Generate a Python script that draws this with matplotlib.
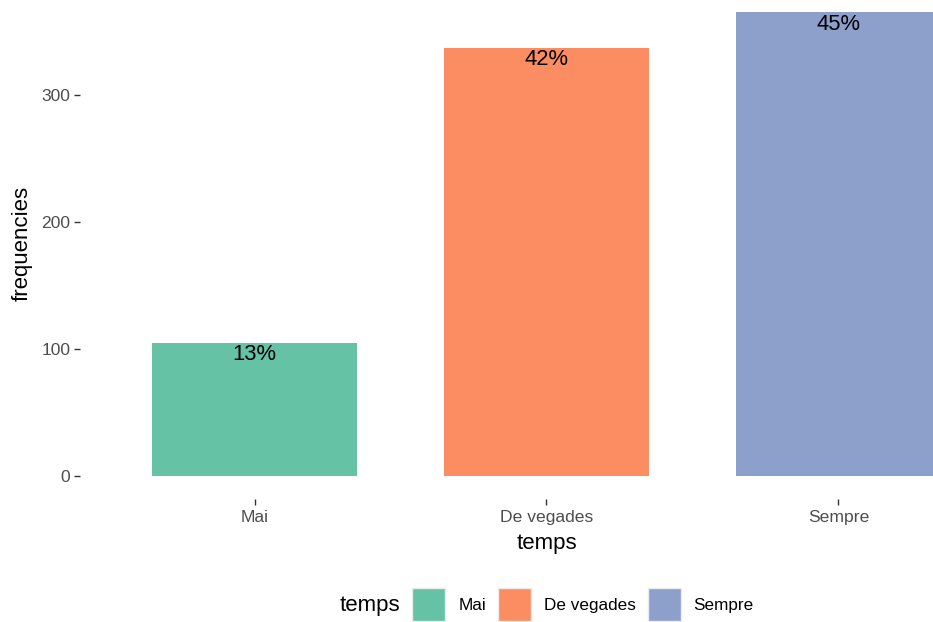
import matplotlib.pyplot as plt
from matplotlib.patches import Patch

# dades
categories = ["Mai", "De vegades", "Sempre"]
frequencies = [105, 337, 365]
percent_labels = ["13%", "42%", "45%"]
colors = ["#66C2A5", "#FC8D62", "#8DA0CB"]
y_ticks = [0, 100, 200, 300]

plt.rcParams['font.family'] = ['Liberation Sans', 'DejaVu Sans']

W, H = 933, 622
fig = plt.figure(figsize=(W / 100, H / 100), dpi=100)
# panell: de x=80px fins a la vora dreta, de y=0 fins a y=499px
ax = fig.add_axes([80 / W, (H - 499) / H, (W - 80) / W, 499 / H])

x = list(range(len(categories)))
bars = ax.bar(x, frequencies, width=0.7, color=colors)
for xi, f, lab in zip(x, frequencies, percent_labels):
    ax.annotate(lab, xy=(xi, f), xytext=(0, -8.5), textcoords="offset points",
                ha="center", va="center", fontsize=15.8, color="black")

ax.set_xlim(-0.598, 2.324)
ax.set_ylim(-18.1, 374.8)
ax.set_xticks(x)
ax.set_xticklabels(categories)
ax.set_yticks(y_ticks)
for s in ax.spines.values():
    s.set_visible(False)
ax.tick_params(axis="both", colors="#333333", labelcolor="#4D4D4D",
               labelsize=12.6, length=4, width=1)
ax.tick_params(axis="y", pad=3)
ax.tick_params(axis="x", pad=4)
ax.set_xlabel("temps", fontsize=16, va="center")
ax.set_ylabel("frequencies", fontsize=16, va="center")
# el panell original continua fora de la imatge: títols centrats al panell sencer
ax.xaxis.set_label_coords((547 - 80) / 853, -44 / 499)
ax.yaxis.set_label_coords((22 - 80) / 853, (499 - 243) / 499)

handles = [Patch(facecolor=c, edgecolor="#EBEBEB", label=l) for c, l in zip(colors, categories)]
fig.legend(handles=handles, loc="center", bbox_to_anchor=(583 / W, (H - 604.5) / H),
           ncol=3, frameon=False, fontsize=12.3, handlelength=1.93, handleheight=2.6,
           handletextpad=0.76, columnspacing=0.7, borderpad=0)
fig.text(370 / W, (H - 606) / H, "temps", ha="center", va="center", fontsize=16)

fig.savefig("out.png", dpi=100)
